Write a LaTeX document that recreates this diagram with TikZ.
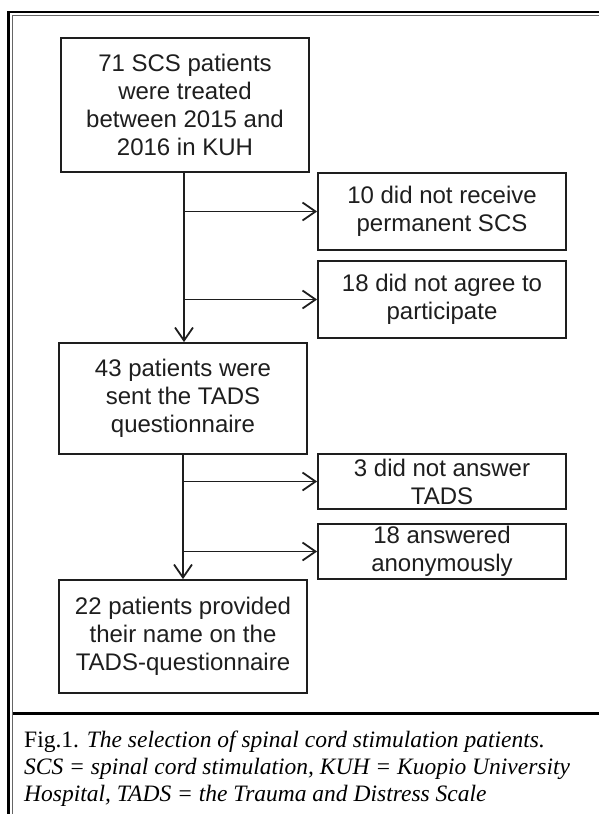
\documentclass[tikz,border=0pt]{standalone}
\usepackage{fontspec}
\setmainfont{Liberation Serif}
\newfontfamily\boxfont{Liberation Sans}
\usetikzlibrary{arrows.meta}
\definecolor{ink}{HTML}{1E1E1E}
\tikzset{
  flowbox/.style={draw=ink, line width=1.8pt, minimum width=248pt, inner sep=0pt,
    align=center, text=ink, font=\boxfont\fontsize{24}{28}\selectfont},
  conn/.style={draw=ink, line width=1.8pt, -{Straight Barb[length=13pt,width=18pt,line width=1.8pt]}},
  captext/.style={anchor=base west, inner sep=0pt, font=\fontsize{23.5}{27}\selectfont}
}
\begin{document}
\begin{tikzpicture}[x=1pt,y=-1pt]
\useasboundingbox (0,0) rectangle (599,814);
\fill[white] (0,0) rectangle (599,814);
% frame
\draw[line width=2.5pt, black] (8.5,814) -- (8.5,12) -- (599,12);
\draw[line width=1pt, black!60] (12.5,814) -- (12.5,15.5) -- (599,15.5);
\draw[line width=3pt, black] (12.5,713) -- (599,713);
% boxes
\node[flowbox, minimum height=134pt] (b1) at (185,105) {71 SCS patients\\were treated\\between 2015 and\\2016 in KUH};
\node[flowbox, minimum height=77pt] (b2) at (442,211.5) {10 did not receive\\permanent SCS};
\node[flowbox, minimum height=77pt] (b3) at (442,299.5) {18 did not agree to\\participate};
\node[flowbox, minimum height=111pt] (b4) at (183,398.5) {43 patients were\\sent the TADS\\questionnaire};
\node[flowbox, minimum height=55pt] (b5) at (442,481.5) {3 did not answer\\TADS};
\node[flowbox, minimum height=55pt] (b6) at (442,551.5) {18 answered\\anonymously};
\node[flowbox, minimum height=113pt] (b7) at (183,636.5) {22 patients provided\\their name on the\\TADS-questionnaire};
% connectors
\coordinate (t1) at (184,172);
\coordinate (t2) at (183,454);
\draw[conn] (t1) -- (t1 |- b4.north);
\draw[conn] (t1 |- b2.west) -- (b2.west);
\draw[conn] (t1 |- b3.west) -- (b3.west);
\draw[conn] (t2) -- (t2 |- b7.north);
\draw[conn] (t2 |- b5.west) -- (b5.west);
\draw[conn] (t2 |- b6.west) -- (b6.west);
% caption
\node[captext] (c1) at (24,747) {Fig.1. \textit{The selection of spinal cord stimulation patients.}};
\node[captext] (c2) at (24,774) {\textit{SCS = spinal cord stimulation, KUH = Kuopio University}};
\node[captext] (c3) at (24,801) {\textit{Hospital, TADS = the Trauma and Distress Scale}};
\end{tikzpicture}
\end{document}
